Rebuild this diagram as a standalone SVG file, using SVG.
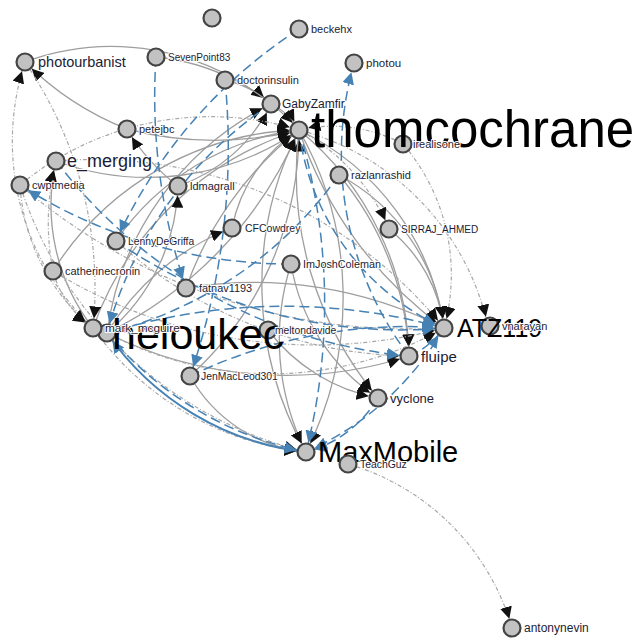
<svg xmlns="http://www.w3.org/2000/svg" width="639" height="642" viewBox="0 0 639 642">
<defs>
<marker id="a" viewBox="0 -5 10 10" refX="18" refY="0" markerWidth="12" markerHeight="12" markerUnits="userSpaceOnUse" orient="auto"><path d="M0,-5L10,0L0,5Z" fill="#111"/></marker>
<marker id="ab" viewBox="0 -5 10 10" refX="18" refY="0" markerWidth="12" markerHeight="12" markerUnits="userSpaceOnUse" orient="auto"><path d="M0,-5L10,0L0,5Z" fill="#4682b4"/></marker>
</defs>
<style>
.g{fill:none;stroke:#9e9e9e;stroke-width:1.3;marker-end:url(#a)}
.d{fill:none;stroke:#a8a8a8;stroke-width:1.2;stroke-dasharray:4,2,1,2;marker-end:url(#a)}
.b{fill:none;stroke:#4682b4;stroke-width:1.5;stroke-dasharray:10,5;marker-end:url(#ab)}
.bs{fill:none;stroke:#4682b4;stroke-width:2;marker-end:url(#ab)}
.n circle{fill:#c2c2c2;stroke:#444;stroke-width:2.2}
text{font-family:"Liberation Sans",Arial,sans-serif;fill:#1c1c34;paint-order:stroke;stroke:#fff;stroke-width:2px;stroke-linejoin:round}
.big{fill:#000;stroke:none}
</style>
<rect width="639" height="642" fill="#fff"/>
<g id="links">
<path class="g" d="M25,62 A250,250 0 0,1 271,104"/>
<path class="g" d="M127,129 A300,300 0 0,1 25,62"/>
<path class="g" d="M127,129 A350,350 0 0,0 299,130"/>
<path class="g" d="M56,161 A265,265 0 0,0 299,130"/>
<path class="g" d="M178,186 A200,200 0 0,1 127,129"/>
<path class="g" d="M178,186 A160,160 0 0,0 271,104"/>
<path class="g" d="M225,80 A100,100 0 0,1 271,104"/>
<path class="g" d="M156,57 A220,220 0 0,1 299,130"/>
<path class="g" d="M271,104 A60,60 0 0,1 299,130"/>
<path class="g" d="M93,328 A320,320 0 0,1 299,130"/>
<path class="g" d="M107,333 A400,400 0 0,0 299,130"/>
<path class="g" d="M107,333 A300,300 0 0,1 271,104"/>
<path class="g" d="M53,271 A300,300 0 0,1 299,130"/>
<path class="g" d="M116,241 A260,260 0 0,1 299,130"/>
<path class="g" d="M186,288 A350,350 0 0,1 299,130"/>
<path class="g" d="M232,228 A150,150 0 0,1 299,130"/>
<path class="g" d="M190,376 A330,330 0 0,0 299,130"/>
<path class="g" d="M299,130 A340,340 0 0,1 306,452"/>
<path class="g" d="M306,452 A340,340 0 0,1 299,130"/>
<path class="g" d="M299,130 A260,260 0 0,1 444,328"/>
<path class="g" d="M299,130 A400,400 0 0,0 444,328"/>
<path class="g" d="M299,130 A300,300 0 0,1 409,356"/>
<path class="g" d="M299,130 A350,350 0 0,0 378,398"/>
<path class="g" d="M339,175 A200,200 0 0,1 444,328"/>
<path class="g" d="M339,175 A300,300 0 0,1 409,356"/>
<path class="g" d="M389,229 A150,150 0 0,1 444,328"/>
<path class="g" d="M291,264 A200,200 0 0,0 378,398"/>
<path class="g" d="M268,330 A180,180 0 0,0 378,398"/>
<path class="g" d="M186,288 A420,420 0 0,1 444,328"/>
<path class="g" d="M107,333 A400,400 0 0,0 409,356"/>
<path class="g" d="M190,376 A150,150 0 0,0 306,452"/>
<path class="g" d="M107,333 A200,200 0 0,0 178,186"/>
<path class="g" d="M107,333 A250,250 0 0,1 232,228"/>
<path class="g" d="M93,328 A200,200 0 0,1 56,161"/>
<path class="g" d="M291,264 A250,250 0 0,0 306,452"/>
<path class="d" d="M348,464 A240,240 0 0,1 512,628"/>
<path class="d" d="M299,130 A262,262 0 0,1 488,326"/>
<path class="d" d="M403,144 A200,200 0 0,1 444,328"/>
<path class="d" d="M93,328 A256,256 0 0,1 25,62"/>
<path class="d" d="M20,185 A200,200 0 0,0 93,328"/>
<path class="d" d="M53,271 A100,100 0 0,0 93,328"/>
<path class="d" d="M20,185 A600,600 0 0,0 444,328"/>
<path class="d" d="M25,62 A400,400 0 0,1 93,328"/>
<path class="d" d="M20,185 A300,300 0 0,1 299,130"/>
<path class="d" d="M107,333 A350,350 0 0,0 444,328"/>
<path class="d" d="M93,328 A300,300 0 0,0 306,452"/>
<path class="d" d="M116,241 A450,450 0 0,0 409,356"/>
<path class="d" d="M53,271 A500,500 0 0,0 444,328"/>
<path class="d" d="M56,161 A450,450 0 0,1 444,328"/>
<path class="d" d="M403,144 A150,150 0 0,0 299,130"/>
<path class="d" d="M299,130 A200,200 0 0,1 389,229"/>
<path class="d" d="M20,185 A400,400 0 0,0 306,452"/>
<path class="d" d="M53,271 A250,250 0 0,1 56,161"/>
<path class="b" d="M299,29 A500,500 0 0,0 116,241"/>
<path class="b" d="M156,57 A600,600 0 0,0 186,288"/>
<path class="b" d="M225,80 A700,700 0 0,1 190,376"/>
<path class="b" d="M271,104 A400,400 0 0,0 107,333"/>
<path class="b" d="M409,356 A335,335 0 0,1 354,63"/>
<path class="b" d="M291,264 A500,500 0 0,1 20,185"/>
<path class="b" d="M107,333 A600,600 0 0,1 444,328"/>
<path class="b" d="M190,376 A500,500 0 0,1 444,328"/>
<path class="b" d="M299,130 A250,250 0 0,0 444,328"/>
<path class="b" d="M339,175 A400,400 0 0,1 107,333"/>
<path class="b" d="M378,398 A120,120 0 0,1 306,452"/>
<path class="b" d="M444,328 A300,300 0 0,1 306,452"/>
<path class="b" d="M409,356 A80,80 0 0,0 444,328"/>
<path class="b" d="M56,161 A500,500 0 0,0 409,356"/>
<path class="b" d="M107,333 A350,350 0 0,0 306,452"/>
<path class="b" d="M299,130 A600,600 0 0,1 306,452"/>
<path class="b" d="M116,241 A500,500 0 0,0 444,328"/>
<path class="bs" d="M306,452 A280,280 0 0,1 107,333"/>
</g>
<g id="n-unnamed" class="n"><circle cx="212" cy="18" r="8.5"/></g>
<g id="n-beckehx" class="n"><circle cx="299" cy="29" r="8.5"/><text x="311" y="33" font-size="11">beckehx</text></g>
<g id="n-SevenPoint83" class="n"><circle cx="156" cy="57" r="8.5"/><text x="168" y="61" font-size="10">SevenPoint83</text></g>
<g id="n-photourbanist" class="n"><circle cx="25" cy="62" r="8.5"/><text x="38" y="67" font-size="14.5">photourbanist</text></g>
<g id="n-photou" class="n"><circle cx="354" cy="63" r="8.5"/><text x="366" y="67" font-size="11.5">photou</text></g>
<g id="n-doctorinsulin" class="n"><circle cx="225" cy="80" r="8.5"/><text x="237" y="84" font-size="11">doctorinsulin</text></g>
<g id="n-GabyZamfir" class="n"><circle cx="271" cy="104" r="8.5"/><text x="282" y="108" font-size="12">GabyZamfir</text></g>
<g id="n-petejbc" class="n"><circle cx="127" cy="129" r="8.5"/><text x="139" y="133" font-size="11">petejbc</text></g>
<g id="n-irealisone" class="n"><circle cx="403" cy="144" r="8.5"/></g>
<g id="n-e_merging" class="n"><circle cx="56" cy="161" r="8.5"/><text x="67" y="167" font-size="18">e_merging</text></g>
<g id="n-cwptmedia" class="n"><circle cx="20" cy="185" r="8.5"/><text x="32" y="189" font-size="11">cwptmedia</text></g>
<g id="n-ldmagrall" class="n"><circle cx="178" cy="186" r="8.5"/><text x="190" y="190" font-size="11">ldmagrall</text></g>
<g id="n-razlanrashid" class="n"><circle cx="339" cy="175" r="8.5"/><text x="351" y="179" font-size="11">razlanrashid</text></g>
<g id="n-CFCowdrey" class="n"><circle cx="232" cy="228" r="8.5"/><text x="245" y="232" font-size="10.5">CFCowdrey</text></g>
<g id="n-SIRRAJ_AHMED" class="n"><circle cx="389" cy="229" r="8.5"/><text x="401" y="233" font-size="10">SIRRAJ_AHMED</text></g>
<g id="n-LennyDeGriffa" class="n"><circle cx="116" cy="241" r="8.5"/><text x="128" y="245" font-size="10.3">LennyDeGriffa</text></g>
<g id="n-ImJoshColeman" class="n"><circle cx="291" cy="264" r="8.5"/><text x="303" y="268" font-size="10.8">ImJoshColeman</text></g>
<g id="n-catherinecronin" class="n"><circle cx="53" cy="271" r="8.5"/><text x="65" y="275" font-size="11">catherinecronin</text></g>
<g id="n-fatnav1193" class="n"><circle cx="186" cy="288" r="8.5"/><text x="199" y="292" font-size="10.9">fatnav1193</text></g>
<g id="n-meltondavide" class="n"><circle cx="268" cy="330" r="8.5"/></g>
<g id="n-vnarayan" class="n"><circle cx="490" cy="326" r="8.5"/></g>
<g id="n-thomcochrane" class="n"><circle cx="299" cy="130" r="8.5"/><text class="big" x="311" y="147" font-size="51">thomcochrane</text></g>
<g id="n-irealisone-label"><text x="413" y="148" font-size="11">irealisone</text></g>
<g id="n-heloukec" class="n"><circle cx="107" cy="333" r="8.5"/><text class="big" x="112" y="349" font-size="43">heloukec</text></g>
<g id="n-mark_mcguire" class="n"><circle cx="93" cy="328" r="8.5"/><text x="105" y="332" font-size="11.8">mark_mcguire</text></g>
<g id="n-meltondavide-label"><text x="275" y="334" font-size="10.3">meltondavide</text></g>
<g id="n-ATZ119" class="n"><circle cx="444" cy="328" r="8.5"/><text class="big" x="457" y="337" font-size="25">ATZ119</text></g>
<g id="n-vnarayan-label"><text x="502" y="330" font-size="11">vnarayan</text></g>
<g id="n-fluipe" class="n"><circle cx="409" cy="356" r="8.5"/><text x="421" y="362" font-size="15">fluipe</text></g>
<g id="n-JenMacLeod301" class="n"><circle cx="190" cy="376" r="8.5"/><text x="201" y="380" font-size="10.4">JenMacLeod301</text></g>
<g id="n-vyclone" class="n"><circle cx="378" cy="398" r="8.5"/><text x="390" y="403" font-size="13">vyclone</text></g>
<g id="n-MaxMobile" class="n"><circle cx="306" cy="452" r="8.5"/><text class="big" x="318" y="462" font-size="29">MaxMobile</text></g>
<g id="n-TeachGuz" class="n"><circle cx="348" cy="464" r="8.5"/><text x="360" y="468" font-size="10.4">TeachGuz</text></g>
<g id="n-antonynevin" class="n"><circle cx="512" cy="628" r="8.5"/><text x="524" y="632" font-size="12">antonynevin</text></g>
</svg>
